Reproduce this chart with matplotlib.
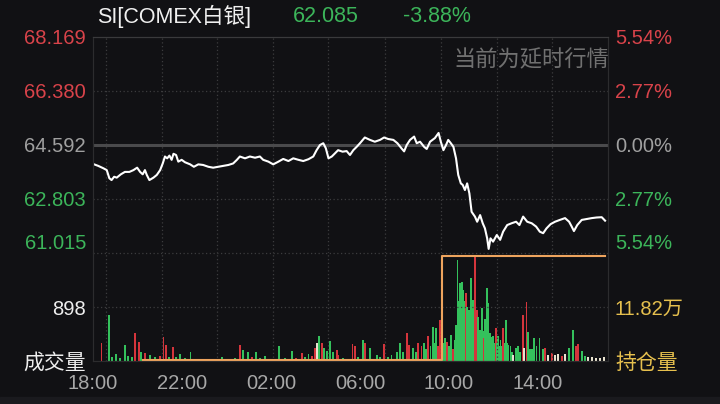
import matplotlib
matplotlib.use("Agg")
import matplotlib.pyplot as plt
from matplotlib.patches import Rectangle

plt.rcParams['font.family'] = ['Liberation Sans', 'Noto Sans CJK SC', 'DejaVu Sans']

# 价格分时数据（分钟，从18:00起算）
price_minutes = [3, 14, 28, 37, 44, 50, 57, 64, 75, 86,
                 98, 109, 119, 127, 134, 140, 145, 152, 163, 172,
                 181, 188, 194, 200, 206, 212, 217, 224, 230, 239,
                 248, 262, 272, 284, 297, 311, 324, 338, 351, 365,
                 378, 388, 396, 410, 423, 437, 450, 459, 473, 486,
                 500, 513, 527, 540, 554, 567, 581, 594, 603, 612,
                 621, 628, 635, 644, 653, 661, 673, 684, 693, 702,
                 711, 720, 733, 747, 760, 774, 785, 796, 810, 821,
                 832, 839, 846, 855, 866, 873, 882, 893, 900, 909,
                 922, 932, 938, 945, 952, 958, 965, 972, 979, 985,
                 992, 997, 1003, 1009, 1015, 1021, 1030, 1036, 1044, 1051,
                 1057, 1063, 1067, 1072, 1079, 1089, 1098, 1106, 1117, 1129,
                 1141, 1150, 1160, 1171, 1183, 1195, 1205, 1214, 1223, 1234,
                 1246, 1259, 1273, 1284, 1291, 1297, 1306, 1318, 1331, 1345,
                 1358, 1372, 1381]
price_values = [63.95, 63.90, 63.82, 63.76, 63.49, 63.43, 63.54, 63.51, 63.62, 63.70,
                63.70, 63.76, 63.84, 63.70, 63.62, 63.76, 63.60, 63.43, 63.51, 63.60,
                63.76, 63.98, 64.21, 64.15, 64.24, 64.10, 64.30, 64.26, 64.04, 64.10,
                64.02, 63.95, 63.87, 63.95, 63.93, 63.87, 63.84, 63.87, 63.90, 63.93,
                63.98, 64.10, 64.21, 64.15, 64.21, 64.17, 64.21, 64.10, 64.04, 63.95,
                64.04, 64.13, 64.06, 64.15, 64.10, 64.06, 64.12, 64.21, 64.42, 64.59,
                64.65, 64.48, 64.15, 64.21, 64.32, 64.42, 64.37, 64.39, 64.26, 64.42,
                64.53, 64.65, 64.84, 64.76, 64.70, 64.76, 64.84, 64.79, 64.76, 64.65,
                64.48, 64.38, 64.59, 64.76, 64.87, 64.65, 64.70, 64.53, 64.46, 64.70,
                64.82, 64.99, 64.70, 64.42, 64.59, 64.76, 64.65, 64.53, 64.15, 63.60,
                63.32, 63.27, 63.10, 63.32, 62.99, 62.38, 62.22, 62.05, 62.27, 62.00,
                61.83, 61.50, 61.15, 61.50, 61.39, 61.61, 61.45, 61.72, 61.94, 62.00,
                62.05, 61.94, 62.22, 62.05, 62.00, 61.89, 61.72, 61.67, 61.83, 61.97,
                62.05, 62.11, 62.17, 62.05, 61.89, 61.74, 61.94, 62.11, 62.14, 62.17,
                62.19, 62.20, 62.085]

# 成交量
vol_minutes = [23, 44, 51, 62, 73, 86, 94, 105, 113, 125,
               129, 140, 154, 167, 181, 190, 197, 205, 215, 224,
               235, 248, 263, 278, 302, 329, 347, 364, 383, 396,
               405, 417, 429, 439, 450, 464, 477, 502, 518, 536,
               547, 563, 572, 581, 591, 599, 605, 610, 617, 623,
               630, 639, 648, 657, 661, 675, 688, 700, 707, 715,
               729, 733, 747, 765, 774, 785, 796, 805, 819, 828,
               836, 846, 853, 864, 871, 877, 886, 893, 898, 904,
               910, 916, 921, 925, 930, 936, 944, 949, 955, 960,
               965, 968, 972, 976, 979, 983, 987, 989, 994, 999,
               1002, 1006, 1009, 1012, 1015, 1019, 1022, 1024, 1027, 1031,
               1035, 1039, 1044, 1048, 1052, 1054, 1058, 1062, 1066, 1071,
               1075, 1079, 1082, 1086, 1089, 1093, 1096, 1099, 1103, 1106,
               1110, 1114, 1116, 1120, 1126, 1130, 1133, 1141, 1147, 1151,
               1159, 1163, 1169, 1173, 1178, 1183, 1189, 1196, 1204, 1213,
               1219, 1228, 1237, 1246, 1255, 1264, 1273, 1284, 1294, 1302,
               1309, 1318, 1327, 1336, 1346, 1356, 1367, 1378]
vol_values = [300, 765, 60, 115, 50, 265, 80, 60, 460, 320,
              150, 130, 100, 60, 80, 400, 265, 70, 230, 60,
              115, 50, 150, 40, 30, 25, 70, 40, 50, 265,
              180, 150, 60, 150, 50, 80, 40, 250, 50, 165,
              50, 130, 60, 115, 80, 215, 300, 420, 300, 215,
              165, 330, 150, 180, 100, 50, 40, 280, 250, 60,
              350, 300, 215, 100, 60, 280, 60, 100, 150, 300,
              150, 460, 265, 215, 150, 300, 250, 300, 200, 415,
              250, 570, 300, 550, 250, 680, 300, 380, 320, 250,
              430, 200, 200, 350, 600, 1680, 1000, 1290, 1310, 1180,
              1000, 1130, 900, 450, 850, 1375, 1000, 1010, 900, 1746,
              850, 730, 520, 880, 500, 380, 700, 1210, 960, 465,
              400, 410, 300, 550, 300, 410, 250, 350, 250, 550,
              300, 680, 300, 265, 250, 150, 100, 215, 250, 150,
              765, 215, 985, 480, 200, 200, 380, 250, 380, 200,
              215, 100, 130, 100, 115, 80, 115, 220, 515, 250,
              280, 165, 80, 60, 60, 50, 50, 60]
vol_colors = ['r', 'g', 'g', 'g', 'g', 'g', 'g', 'g', 'r', 'r',
              'g', 'r', 'g', 'g', 'r', 'r', 'r', 'g', 'r', 'g',
              'g', 'g', 'g', 'g', 'g', 'g', 'g', 'r', 'g', 'r',
              'g', 'g', 'r', 'g', 'g', 'g', 'r', 'g', 'g', 'g',
              'r', 'r', 'g', 'g', 'r', 'r', 'w', 'g', 'r', 'g',
              'g', 'g', 'g', 'r', 'r', 'g', 'g', 'r', 'r', 'g',
              'g', 'r', 'g', 'g', 'g', 'r', 'g', 'g', 'g', 'g',
              'g', 'r', 'r', 'g', 'g', 'r', 'r', 'g', 'g', 'r',
              'g', 'g', 'g', 'g', 'r', 'r', 'g', 'g', 'r', 'g',
              'g', 'g', 'r', 'g', 'g', 'g', 'g', 'g', 'g', 'g',
              'g', 'r', 'g', 'g', 'g', 'g', 'g', 'g', 'g', 'r',
              'r', 'g', 'g', 'g', 'g', 'r', 'g', 'g', 'g', 'g',
              'g', 'g', 'g', 'r', 'g', 'g', 'g', 'g', 'g', 'r',
              'g', 'g', 'g', 'g', 'g', 'g', 'w', 'g', 'g', 'g',
              'r', 'w', 'r', 'g', 'g', 'g', 'g', 'g', 'g', 'g',
              'r', 'w', 'r', 'w', 'w', 'r', 'w', 'g', 'g', 'r',
              'r', 'g', 'g', 'w', 'w', 'w', 'w', 'w']

# 持仓量（万）
oi_minutes = [135, 941, 1382]
oi_values = [11.43, 12.20, 12.20]

prev_close = 64.592
price_ticks = [61.015, 62.803, 64.592, 66.380, 68.169]
price_labels = ['61.015', '62.803', '64.592', '66.380', '68.169']
pct_labels = ['5.54%', '2.77%', '0.00%', '2.77%', '5.54%']
time_ticks = [0, 240, 480, 720, 960, 1200]
time_labels = ['18:00', '22:00', '02:00', '06:00', '10:00', '14:00']
grid_minutes = [35, 186, 334, 485, 634, 787, 938, 1089, 1238]
vol_ticks = [0, 898]
vol_labels = ['成交量', '898']
oi_ticks = [11.42, 11.82]
oi_labels = ['持仓量', '11.82万']

bg = '#111114'
red = '#d9434a'
green = '#3cb55a'
gray = '#a0a0a0'
gold = '#e6c04e'
grid_c = '#3c3c3e'
bar_c = {'r': '#d5353c', 'g': '#34c15c', 'w': '#e8e2cf'}

fig = plt.figure(figsize=(7.2, 4.04), dpi=100, facecolor=bg)
ax_p = fig.add_axes([0.1292, 0.3738, 0.7153, 0.5347], facecolor=bg)
ax_v = fig.add_axes([0.1292, 0.1064, 0.7153, 0.2673], facecolor=bg, sharex=ax_p)

# 价格图
ax_p.set_xlim(0, 1389)
ax_p.set_ylim(price_ticks[0], price_ticks[-1])
for m in grid_minutes:
    ax_p.axvline(m, color=grid_c, lw=0.9, ls=(0, (1, 2)))
    ax_v.axvline(m, color=grid_c, lw=0.9, ls=(0, (1, 2)))
for p in price_ticks[:2] + price_ticks[3:4]:
    ax_p.axhline(p, color=grid_c, lw=0.9, ls=(0, (1, 2)))
ax_p.axhline(prev_close, color='#4a4a4c', lw=2.2)
ax_p.plot(price_minutes, price_values, color='white', lw=1.5)

ax_p.set_yticks(price_ticks)
ax_p.set_yticklabels(price_labels)
ax_p.tick_params(axis='y', length=0, pad=5, labelsize=14.5)
ax_p.tick_params(axis='x', length=0, labelbottom=False)
for lab, c in zip(ax_p.get_yticklabels(), [green, green, gray, red, red]):
    lab.set_color(c)
ax_p.get_yticklabels()[0].set_va('bottom')

ax_pct = ax_p.twinx()
ax_pct.set_ylim((price_ticks[0] / prev_close - 1) * 100, (price_ticks[-1] / prev_close - 1) * 100)
ax_pct.set_yticks([(p / prev_close - 1) * 100 for p in price_ticks])
ax_pct.set_yticklabels(pct_labels)
ax_pct.tick_params(axis='y', length=0, pad=5, labelsize=14.5)
for lab, c in zip(ax_pct.get_yticklabels(), [green, green, gray, red, red]):
    lab.set_color(c)
ax_pct.get_yticklabels()[0].set_va('bottom')

for a in (ax_p, ax_pct):
    a.spines['bottom'].set_visible(False)
    a.spines['top'].set_color('#3a3a3c')
    a.spines['left'].set_color('#2c2c2e')
    a.spines['right'].set_color('#2c2c2e')

# 成交量图
ax_v.set_ylim(0, 1796)
ax_v.axhline(898, color=grid_c, lw=0.9, ls=(0, (1, 2)))
ax_v.axhline(1796, color=grid_c, lw=0.9, ls=(0, (1, 2)))
ax_v.bar(vol_minutes, vol_values, width=5.0, color=[bar_c[c] for c in vol_colors],
         lw=0, antialiased=False)
ax_v.set_yticks(vol_ticks)
ax_v.set_yticklabels(vol_labels)
ax_v.tick_params(axis='y', length=0, pad=5, labelsize=14.5, labelcolor='#eeeeee')
ax_v.get_yticklabels()[0].set_fontsize(15)
ax_v.set_xticks(time_ticks)
ax_v.set_xticklabels(time_labels)
ax_v.tick_params(axis='x', length=0, pad=9, labelsize=14.5, labelcolor='#a8a8a8')

ax_oi = ax_v.twinx()
ax_oi.set_ylim(11.42, 12.22)
ax_oi.step(oi_minutes, oi_values, where='post', color='#eea45e', lw=1.5)
ax_oi.set_yticks(oi_ticks)
ax_oi.set_yticklabels(oi_labels)
ax_oi.tick_params(axis='y', length=0, pad=5, labelsize=14.5, labelcolor=gold)
ax_oi.get_yticklabels()[0].set_fontsize(15)

for a in (ax_v, ax_oi):
    a.spines['top'].set_visible(False)
    a.spines['bottom'].set_color('#2c2c2e')
    a.spines['left'].set_color('#2c2c2e')
    a.spines['right'].set_color('#2c2c2e')

# 标题
fig.text(97 / 720, 1 - 16 / 404, 'SI[COMEX白银]', color='#f0f0f0', fontsize=15.5, va='center')
fig.text(293 / 720, 1 - 16 / 404, '62.085', color=green, fontsize=15.5, va='center')
fig.text(403 / 720, 1 - 16 / 404, '-3.88%', color=green, fontsize=15.5, va='center')
fig.text(609 / 720, 1 - 60 / 404, '当前为延时行情', color='#707070', fontsize=16, va='center', ha='right')

fig.patches.append(Rectangle((0, 0), 1, 7 / 404, transform=fig.transFigure, color='#1a1a1e', zorder=0))

fig.savefig('out.png', dpi=100, facecolor=bg)
